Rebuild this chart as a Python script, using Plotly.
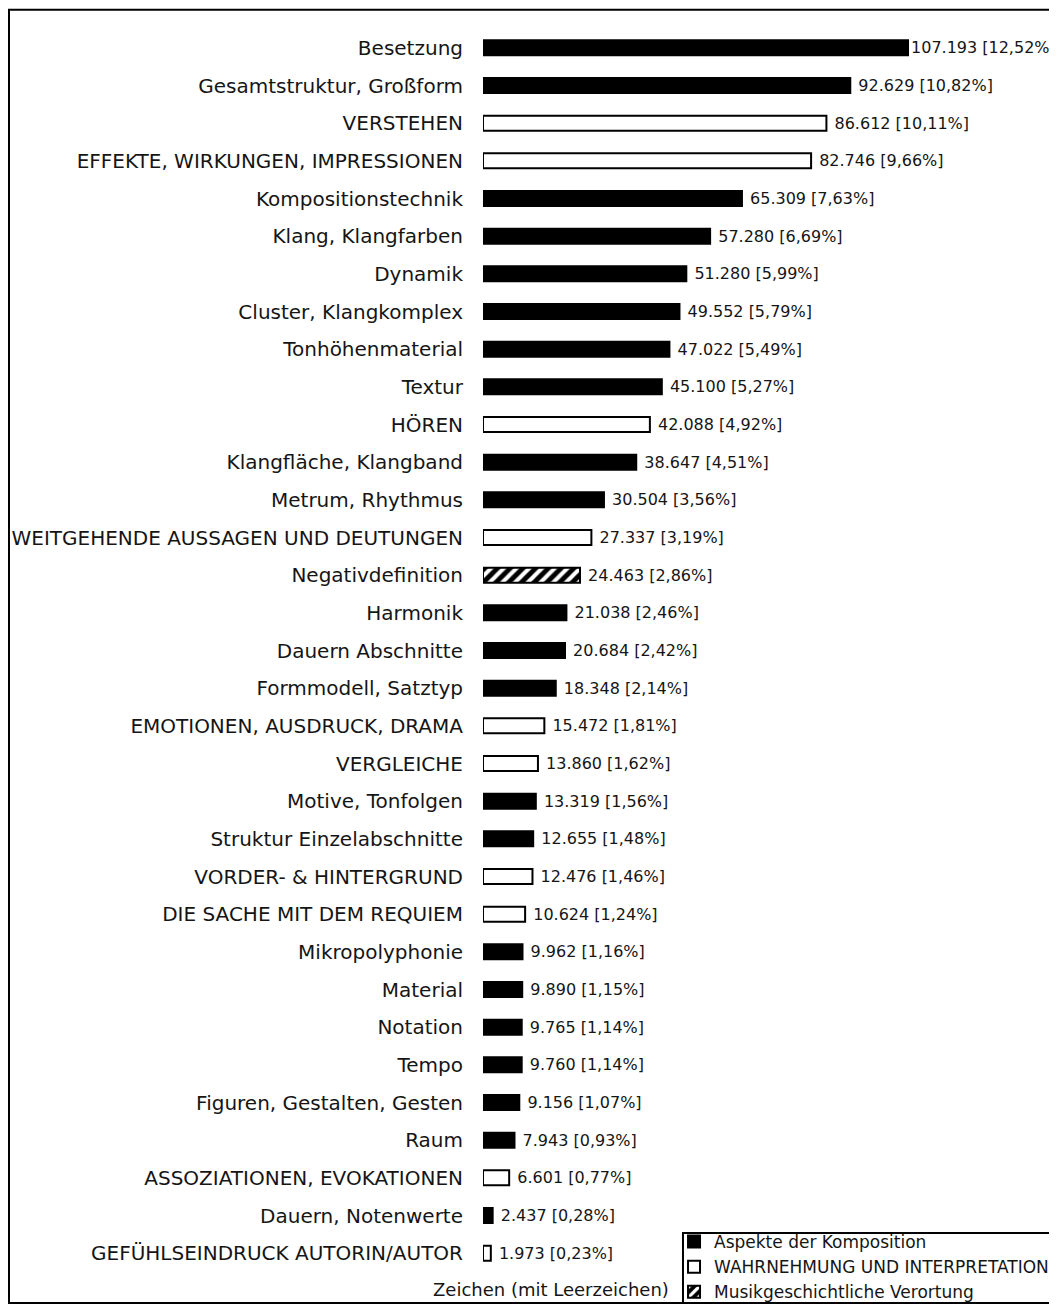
import plotly.graph_objects as go

categories = [
    "Besetzung", "Gesamtstruktur, Großform", "VERSTEHEN", "EFFEKTE, WIRKUNGEN, IMPRESSIONEN",
    "Kompositionstechnik", "Klang, Klangfarben", "Dynamik", "Cluster, Klangkomplex",
    "Tonhöhenmaterial", "Textur", "HÖREN", "Klangfläche, Klangband", "Metrum, Rhythmus",
    "WEITGEHENDE AUSSAGEN UND DEUTUNGEN", "Negativdefinition", "Harmonik", "Dauern Abschnitte",
    "Formmodell, Satztyp", "EMOTIONEN, AUSDRUCK, DRAMA", "VERGLEICHE", "Motive, Tonfolgen",
    "Struktur Einzelabschnitte", "VORDER- & HINTERGRUND", "DIE SACHE MIT DEM REQUIEM",
    "Mikropolyphonie", "Material", "Notation", "Tempo", "Figuren, Gestalten, Gesten", "Raum",
    "ASSOZIATIONEN, EVOKATIONEN", "Dauern, Notenwerte", "GEFÜHLSEINDRUCK AUTORIN/AUTOR",
]
values = [
    107193, 92629, 86612, 82746, 65309, 57280, 51280, 49552, 47022, 45100, 42088, 38647, 30504,
    27337, 24463, 21038, 20684, 18348, 15472, 13860, 13319, 12655, 12476, 10624, 9962, 9890,
    9765, 9760, 9156, 7943, 6601, 2437, 1973,
]
percents = [
    "12,52", "10,82", "10,11", "9,66", "7,63", "6,69", "5,99", "5,79", "5,49", "5,27", "4,92",
    "4,51", "3,56", "3,19", "2,86", "2,46", "2,42", "2,14", "1,81", "1,62", "1,56", "1,48",
    "1,46", "1,24", "1,16", "1,15", "1,14", "1,14", "1,07", "0,93", "0,77", "0,28", "0,23",
]
# A = Aspekte der Komposition, W = Wahrnehmung und Interpretation, M = Musikgeschichtliche Verortung
groups = [
    "A", "A", "W", "W", "A", "A", "A", "A", "A", "A", "W", "A", "A", "W", "M", "A", "A", "A",
    "W", "W", "A", "A", "W", "W", "A", "A", "A", "A", "A", "A", "W", "A", "W",
]
group_names = {
    "A": "Aspekte der Komposition",
    "W": "WAHRNEHMUNG UND INTERPRETATION",
    "M": "Musikgeschichtliche Verortung",
}
axis_title = "Zeichen (mit Leerzeichen)"

FONT = "Century Gothic, DejaVu Sans, sans-serif"
TXT = "#151515"


def fmt(v):
    return f"{v:,}".replace(",", ".")


vmax = max(values)
fig = go.Figure()
for g in ["A", "W", "M"]:
    idx = [i for i, gg in enumerate(groups) if gg == g]
    xs = [values[i] for i in idx]
    ys = [categories[i] for i in idx]
    txt = [("" if values[i] == vmax else "\u00a0") + f"{fmt(values[i])} [{percents[i]}%]" for i in idx]
    marker = dict(color="black" if g == "A" else "white", line=dict(color="black", width=2))
    if g == "M":
        marker = dict(
            color="black",
            line=dict(color="black", width=2),
            pattern=dict(shape="/", fgcolor="white", bgcolor="black", size=9,
                         solidity=0.45, fgopacity=1),
        )
    fig.add_trace(go.Bar(
        x=xs, y=ys, orientation="h", name=group_names[g], marker=marker,
        text=txt, textposition="outside", constraintext="none", cliponaxis=False,
        textfont=dict(family=FONT, size=16, color=TXT), width=0.4,
    ))

fig.update_layout(
    width=1049, height=1306,
    margin=dict(l=475, r=0, t=21, b=42, autoexpand=False),
    paper_bgcolor="white", plot_bgcolor="white",
    barmode="overlay",
    font=dict(family=FONT, size=16, color=TXT),
    showlegend=True,
    legend=dict(
        x=0.3328, y=0.0386, xanchor="left", yanchor="top",
        borderwidth=0, bgcolor="rgba(0,0,0,0)",
        font=dict(family=FONT, size=17, color=TXT),
        itemwidth=30, tracegroupgap=0,
    ),
    xaxis=dict(range=[0, 144767], visible=False, showgrid=False, zeroline=False),
    yaxis=dict(
        categoryorder="array", categoryarray=categories[::-1],
        range=[-0.5, len(categories) - 0.5],
        showgrid=False, zeroline=False, showline=False, ticks="",
        ticklabelstandoff=19, tickfont=dict(family=FONT, size=20, color=TXT),
    ),
    shapes=[
        dict(
            type="rect", xref="paper", yref="paper",
            x0=-0.8258, x1=1.05, y0=-0.02494, y1=1.01545,
            line=dict(color="black", width=2), fillcolor="rgba(0,0,0,0)", layer="above",
        ),
        dict(
            type="rect", xref="paper", yref="paper",
            x0=0.3484, x1=1.05, y0=-0.02494, y1=0.0314,
            line=dict(color="black", width=2), fillcolor="rgba(0,0,0,0)", layer="above",
        ),
    ],
    annotations=[dict(
        text=axis_title, xref="x", yref="paper", x=17150, y=-0.01448,
        xanchor="center", yanchor="middle", showarrow=False,
        font=dict(family=FONT, size=18, color=TXT),
    )],
)

fig.write_html("out.html")
